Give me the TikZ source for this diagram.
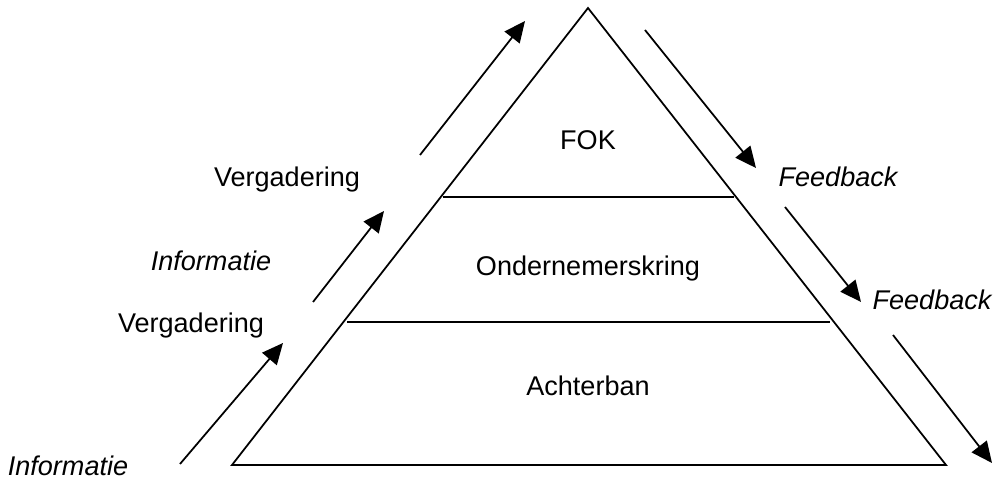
\documentclass[tikz,border=0pt]{standalone}
\usepackage{fontspec}
\setmainfont{Liberation Sans}
\usetikzlibrary{arrows.meta}
\tikzset{
  edge/.style={line width=1pt, color=black},
  flow/.style={-{Triangle[length=0.42cm, width=0.38cm]}, line width=1pt},
  layer/.style={font=\fontsize{15.4}{18}\selectfont, anchor=base},
  side/.style={font=\fontsize{15.4}{18}\selectfont, anchor=base},
  sideit/.style={anchor=base, font=\fontsize{15.4}{18}\selectfont\itshape}
}

\begin{document}
\begin{tikzpicture}[x=0.02cm, y=-0.02cm]
  \useasboundingbox (0,0) rectangle (994,482);

  % Pyramid
  \coordinate (apex) at (588,8);
  \coordinate (bl) at (232,465);
  \coordinate (br) at (946,465);
  \draw[edge, line join=miter] (apex) -- (br) -- (bl) -- cycle;
  \coordinate (l1a) at (443,197);
  \coordinate (l1b) at (734,197);
  \coordinate (l2a) at (347,322);
  \coordinate (l2b) at (830,322);
  \draw[edge] (l1a) -- (l1b);
  \draw[edge] (l2a) -- (l2b);

  % Layers
  \node[layer] (fok) at (588,150) {FOK};
  \node[layer] (okring) at (588,276) {Ondernemerskring};
  \node[layer] (achter) at (588,396) {Achterban};

  % Upward arrows
  \coordinate (u1s) at (180,464);
  \coordinate (u1e) at (283,343);
  \coordinate (u2s) at (313,302);
  \coordinate (u2e) at (384,211);
  \coordinate (u3s) at (420,155);
  \coordinate (u3e) at (525,21);
  \draw[flow] (u1s) -- (u1e);
  \draw[flow] (u2s) -- (u2e);
  \draw[flow] (u3s) -- (u3e);

  % Downward arrows
  \coordinate (d1s) at (645,30);
  \coordinate (d1e) at (756,168);
  \coordinate (d2s) at (785,207);
  \coordinate (d2e) at (861,302);
  \coordinate (d3s) at (893,335);
  \coordinate (d3e) at (992,463);
  \draw[flow] (d1s) -- (d1e);
  \draw[flow] (d2s) -- (d2e);
  \draw[flow] (d3s) -- (d3e);

  % Labels
  \node[side] (verg1) at (287,187) {Vergadering};
  \node[sideit] (info1) at (211,271) {Informatie};
  \node[side] (verg2) at (191,333) {Vergadering};
  \node[sideit] (info2) at (68,476) {Informatie};
  \node[sideit] (feed1) at (838,187) {Feedback};
  \node[sideit] (feed2) at (932,310) {Feedback};
\end{tikzpicture}
\end{document}
